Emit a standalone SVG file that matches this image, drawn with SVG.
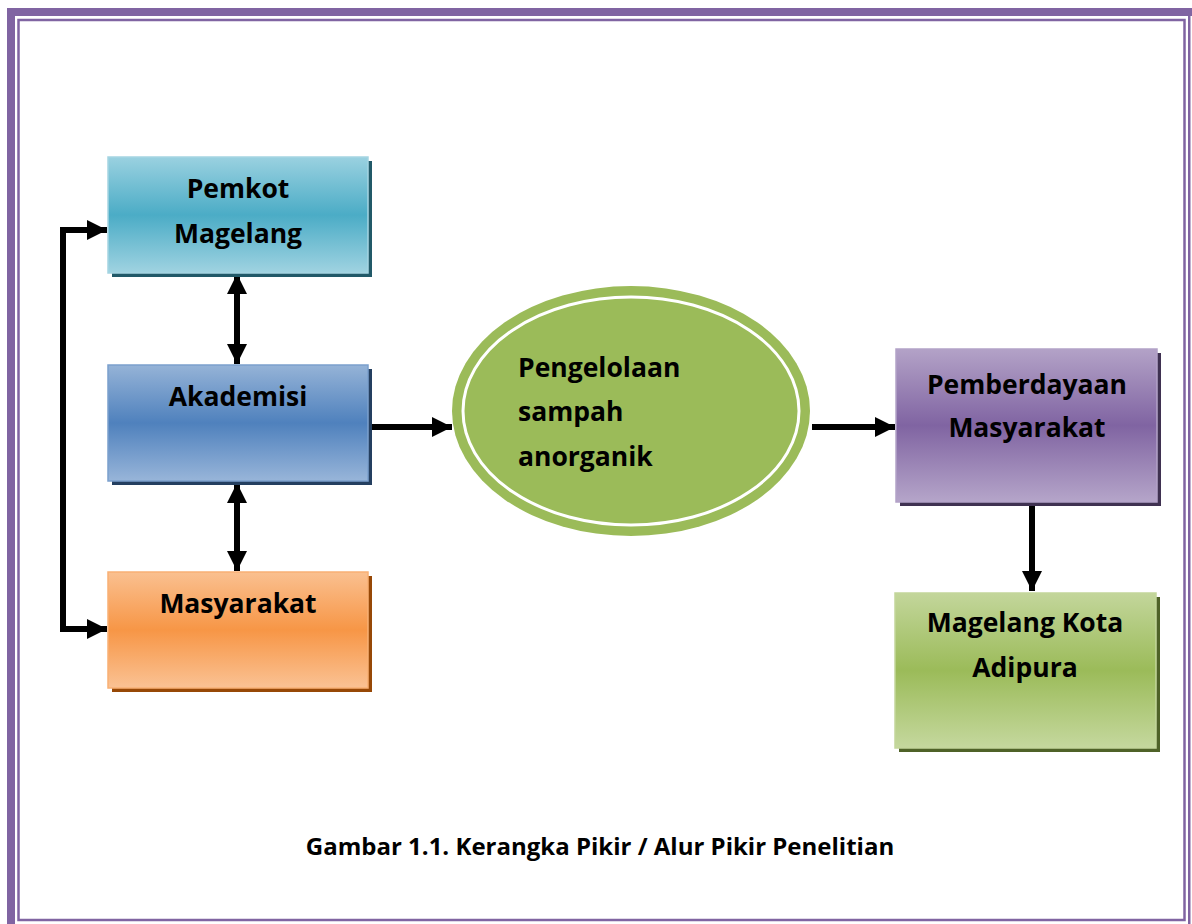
<svg xmlns="http://www.w3.org/2000/svg" width="1192" height="924" viewBox="0 0 1192 924">
<style>
.t{font-family:"Open Sans","Liberation Sans",sans-serif;font-weight:bold;font-size:26.5px;fill:#000;}
.c{text-anchor:middle;}
.ln{stroke:#000;stroke-width:6;fill:none;}
.frame{fill:#8064A2;}
</style>
<defs>
<linearGradient id="gTeal" x1="0" y1="0" x2="0" y2="1"><stop offset="0" stop-color="#9AD1E0"/><stop offset="0.5" stop-color="#4BACC6"/><stop offset="1" stop-color="#A0D3E1"/></linearGradient>
<linearGradient id="gBlue" x1="0" y1="0" x2="0" y2="1"><stop offset="0" stop-color="#95B3D7"/><stop offset="0.5" stop-color="#4F81BD"/><stop offset="1" stop-color="#98B5D9"/></linearGradient>
<linearGradient id="gOrange" x1="0" y1="0" x2="0" y2="1"><stop offset="0" stop-color="#FAC090"/><stop offset="0.5" stop-color="#F79646"/><stop offset="1" stop-color="#FAC294"/></linearGradient>
<linearGradient id="gPurple" x1="0" y1="0" x2="0" y2="1"><stop offset="0" stop-color="#B3A2C7"/><stop offset="0.5" stop-color="#8064A2"/><stop offset="1" stop-color="#B5A5C9"/></linearGradient>
<linearGradient id="gGreen" x1="0" y1="0" x2="0" y2="1"><stop offset="0" stop-color="#C3D69B"/><stop offset="0.5" stop-color="#9BBB59"/><stop offset="1" stop-color="#C5D89E"/></linearGradient>
<marker id="ah" viewBox="0 0 10 10" refX="10" refY="5" markerWidth="3.4" markerHeight="3.4" orient="auto-start-reverse" markerUnits="strokeWidth"><path d="M0,0 L10,5 L0,10 Z" fill="#000"/></marker>
</defs>
<rect width="1192" height="924" fill="#fff"/>
<g id="frame">
<rect class="frame" x="7" y="8" width="1185" height="8"/>
<rect class="frame" x="7" y="8" width="8" height="916"/>
<rect class="frame" x="1188" y="16" width="2.5" height="908"/>
<rect x="18.5" y="20" width="1166" height="900" fill="none" stroke="#8064A2" stroke-width="2.5"/>
</g>
<g id="connectors">
<path class="ln" d="M107,230 H63 V629 H107" marker-start="url(#ah)" marker-end="url(#ah)"/>
<line class="ln" x1="237" y1="274" x2="237" y2="364" marker-start="url(#ah)" marker-end="url(#ah)"/>
<line class="ln" x1="237" y1="483" x2="237" y2="571" marker-start="url(#ah)" marker-end="url(#ah)"/>
<line class="ln" x1="370" y1="427" x2="452" y2="427" marker-end="url(#ah)"/>
<line class="ln" x1="812" y1="427" x2="895" y2="427" marker-end="url(#ah)"/>
<line class="ln" x1="1032" y1="504" x2="1032" y2="591" marker-end="url(#ah)"/>
</g>
<g id="pemkot">
<rect x="112" y="161" width="260" height="116" fill="#215968"/>
<rect x="108" y="157" width="260" height="116" fill="url(#gTeal)" stroke="#A5D5E2" stroke-width="1.5"/>
<text class="t c" x="238" y="198">Pemkot</text>
<text class="t c" x="238" y="243">Magelang</text>
</g>
<g id="akademisi">
<rect x="112" y="369" width="260" height="116" fill="#243F60"/>
<rect x="108" y="365" width="260" height="116" fill="url(#gBlue)" stroke="#7BA0CD" stroke-width="1.5"/>
<text class="t c" x="238" y="406">Akademisi</text>
</g>
<g id="masyarakat">
<rect x="112" y="576" width="260" height="116" fill="#974806"/>
<rect x="108" y="572" width="260" height="116" fill="url(#gOrange)" stroke="#F9B074" stroke-width="1.5"/>
<text class="t c" x="238" y="613">Masyarakat</text>
</g>
<g id="pengelolaan">
<ellipse cx="631" cy="411" rx="179" ry="125" fill="#9BBB59"/>
<ellipse cx="631" cy="411" rx="168" ry="114" fill="none" stroke="#fff" stroke-width="3"/>
<text class="t" x="518" y="377">Pengelolaan</text>
<text class="t" x="518" y="421">sampah</text>
<text class="t" x="518" y="466">anorganik</text>
</g>
<g id="pemberdayaan">
<rect x="900" y="353" width="261" height="153" fill="#3F3151"/>
<rect x="896" y="349" width="261" height="153" fill="url(#gPurple)" stroke="#B3A2C7" stroke-width="1.5"/>
<text class="t c" x="1027" y="394">Pemberdayaan</text>
<text class="t c" x="1027" y="437">Masyarakat</text>
</g>
<g id="adipura">
<rect x="899" y="597" width="261" height="155" fill="#4F6228"/>
<rect x="895" y="593" width="261" height="155" fill="url(#gGreen)" stroke="#C3D69B" stroke-width="1.5"/>
<text class="t c" x="1025" y="632">Magelang Kota</text>
<text class="t c" x="1025" y="677">Adipura</text>
</g>
<text class="t c" x="600" y="855" style="font-size:24px">Gambar 1.1. Kerangka Pikir / Alur Pikir Penelitian</text>
</svg>
